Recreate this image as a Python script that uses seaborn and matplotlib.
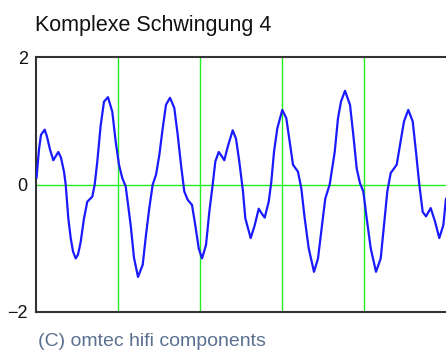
import matplotlib
matplotlib.use("Agg")
import matplotlib.pyplot as plt
import seaborn as sns
import pandas as pd

title = "Komplexe Schwingung 4"
footer = "(C) omtec hifi components"
y_ticks = [-2, 0, 2]
y_tick_labels = ["\u22122", "0", "2"]
grid_t = [82, 164, 246, 328]

t = [0.5, 3, 5, 8.7, 11, 14, 17.3, 20, 22.3, 25, 28, 29.7, 32.3, 34.7, 37, 39.7, 42, 44.7, 48,
     51.3, 56.3, 58.7, 61.3, 64.7, 68, 72, 76.3, 79.7, 83, 86.3, 89.7, 94.7, 98, 102, 106.7,
     110, 113.3, 116.7, 120, 123.3, 126.7, 130, 134, 138.3, 141.7, 145, 148.3, 151.7, 156,
     159.3, 162.7, 166, 170, 173.3, 176.7, 179.3, 182.7, 185.5, 188.3, 191.7, 196.7, 200,
     203.3, 207, 209.3, 214.7, 218.7, 222.7, 225.5, 228.7, 232.7, 235.3, 238, 241.3, 246.3,
     250.3, 253.7, 257, 262, 265.3, 268.7, 272.7, 278, 282, 286, 289.3, 293.7, 298.7, 302,
     305, 309, 314, 317.3, 320.7, 324, 327.3, 330.7, 334.7, 340, 344.7, 348, 351.3, 354.7,
     360.7, 364, 368, 372.3, 376.7, 380, 383.3, 386.7, 390, 394.7, 399, 403.3, 407.3, 410]
v = [0.1, 0.55, 0.78, 0.86, 0.75, 0.55, 0.38, 0.45, 0.51, 0.42, 0.2, 0.0, -0.53, -0.84, -1.05,
     -1.16, -1.1, -0.9, -0.53, -0.27, -0.19, 0.0, 0.36, 0.93, 1.3, 1.37, 1.14, 0.67, 0.31, 0.1,
     -0.03, -0.64, -1.15, -1.45, -1.26, -0.79, -0.37, 0.0, 0.15, 0.46, 0.88, 1.25, 1.36, 1.2,
     0.78, 0.31, -0.11, -0.24, -0.32, -0.64, -1.0, -1.16, -0.95, -0.43, 0.0, 0.36, 0.51, 0.45,
     0.38, 0.59, 0.85, 0.72, 0.36, -0.11, -0.53, -0.84, -0.64, -0.38, -0.45, -0.52, -0.27, 0.04,
     0.51, 0.88, 1.17, 1.04, 0.67, 0.31, 0.2, -0.06, -0.53, -1.0, -1.37, -1.16, -0.64, -0.22,
     0.0, 0.51, 1.04, 1.3, 1.47, 1.25, 0.78, 0.25, 0.02, -0.11, -0.53, -1.0, -1.37, -1.16,
     -0.64, -0.11, 0.18, 0.31, 0.62, 0.99, 1.17, 0.99, 0.51, 0.0, -0.43, -0.5, -0.37, -0.58,
     -0.84, -0.64, -0.22]

sns.set_style("white")
plt.rcParams["font.family"] = ["Liberation Sans", "DejaVu Sans"]

df = pd.DataFrame({"t": t, "v": v})

fig = plt.figure(figsize=(4.46, 3.52), dpi=100)
ax = fig.add_axes([36 / 446, 1 - 312 / 352, 410 / 446, (312 - 57) / 352])

for g in grid_t:
    ax.axvline(g, color="#22ee22", linewidth=1.0, zorder=1)
ax.axhline(0, color="#22ee22", linewidth=1.0, zorder=1)

sns.lineplot(data=df, x="t", y="v", color="#1a1aff", linewidth=1.6, ax=ax, zorder=3)

ax.set_xlim(0, 410)
ax.set_ylim(-2, 2)
ax.set_xticks([])
ax.set_yticks(y_ticks)
ax.set_yticklabels(y_tick_labels, fontsize=13, color="#111111")
ax.tick_params(axis="y", length=0, pad=6)
ax.set_xlabel("")
ax.set_ylabel("")
for side in ["left", "top", "bottom"]:
    ax.spines[side].set_color("#333333")
    ax.spines[side].set_linewidth(1.5)
ax.spines["right"].set_visible(False)

fig.text(35 / 446, 1 - 25 / 352, title, fontsize=15.5, color="#111111", va="center", ha="left")
fig.text(38 / 446, 1 - 341 / 352, footer, fontsize=14, color="#5a7090", va="center", ha="left")

fig.savefig("out.png", dpi=100)
